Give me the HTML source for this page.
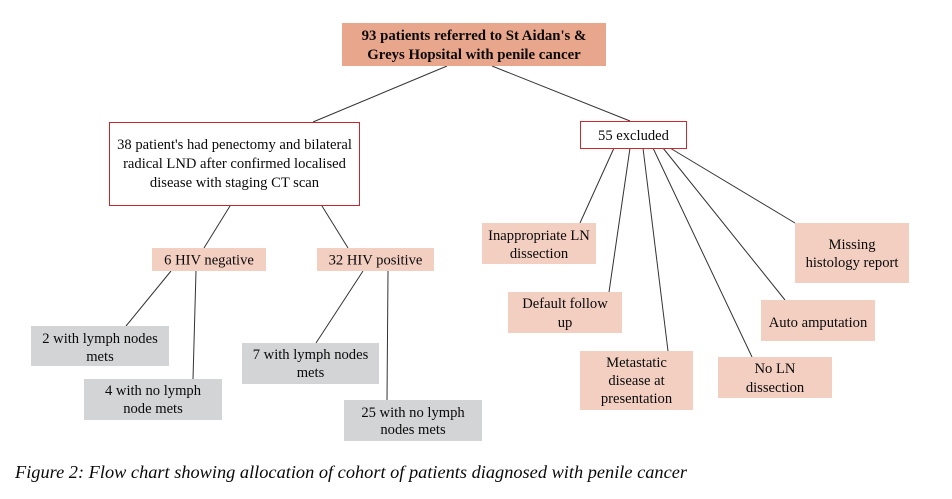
<!DOCTYPE html>
<html>
<head>
<meta charset="utf-8">
<style>
html,body{margin:0;padding:0;background:#fff;}
svg{display:block;}
text{font-family:"Liberation Serif","Times New Roman",serif;font-size:14.6px;fill:#0a0a0a;}
</style>
</head>
<body>
<svg width="952" height="499" viewBox="0 0 952 499" xmlns="http://www.w3.org/2000/svg">
<rect width="952" height="499" fill="#fff"/>
<g stroke="#333" stroke-width="1" fill="none">
<line x1="447" y1="66" x2="313" y2="122"/>
<line x1="492" y1="66" x2="630" y2="121"/>
<line x1="230" y1="206" x2="204" y2="248"/>
<line x1="322" y1="206" x2="348" y2="248"/>
<line x1="171" y1="271" x2="126" y2="326"/>
<line x1="196" y1="271" x2="193" y2="379"/>
<line x1="363" y1="271" x2="316" y2="343"/>
<line x1="388" y1="271" x2="387" y2="400"/>
<line x1="614" y1="148" x2="580" y2="223"/>
<line x1="630" y1="148" x2="609" y2="292"/>
<line x1="643" y1="148" x2="668" y2="351"/>
<line x1="653" y1="148" x2="752" y2="357"/>
<line x1="663" y1="148" x2="785" y2="300"/>
<line x1="670" y1="148" x2="795" y2="223"/>
</g>
<!-- top box -->
<rect x="342" y="23" width="264" height="43" fill="#E8A68C"/>
<text x="474" y="40" text-anchor="middle" font-weight="bold" style="font-size:14.8px">93 patients referred to St Aidan's &amp;</text>
<text x="474" y="59" text-anchor="middle" font-weight="bold" style="font-size:14.8px">Greys Hopsital with penile cancer</text>
<!-- 38 box -->
<rect x="109.5" y="122.5" width="250" height="83" fill="#fff" stroke="#C0282D" stroke-width="1"/>
<text x="234.5" y="149" text-anchor="middle">38 patient's had penectomy and bilateral</text>
<text x="234.5" y="168" text-anchor="middle">radical LND after confirmed localised</text>
<text x="234.5" y="187" text-anchor="middle">disease with staging CT scan</text>
<!-- 55 excluded -->
<rect x="580.5" y="121.5" width="106" height="27" fill="#fff" stroke="#D0282D" stroke-width="1"/>
<text x="633.5" y="140" text-anchor="middle">55 excluded</text>
<!-- HIV boxes -->
<rect x="152" y="248" width="114" height="23" fill="#F3CFC1"/>
<text x="209" y="264.5" text-anchor="middle">6 HIV negative</text>
<rect x="317" y="248" width="117" height="23" fill="#F3CFC1"/>
<text x="375.5" y="264.5" text-anchor="middle">32 HIV positive</text>
<!-- gray boxes -->
<rect x="31" y="326" width="138" height="40" fill="#D3D4D6"/>
<text x="100" y="343" text-anchor="middle">2 with lymph nodes</text>
<text x="100" y="361" text-anchor="middle">mets</text>
<rect x="84" y="379" width="138" height="41" fill="#D3D4D6"/>
<text x="153" y="395" text-anchor="middle">4 with no lymph</text>
<text x="153" y="413" text-anchor="middle">node mets</text>
<rect x="242" y="343" width="137" height="41" fill="#D3D4D6"/>
<text x="310.5" y="359" text-anchor="middle">7 with lymph nodes</text>
<text x="310.5" y="377" text-anchor="middle">mets</text>
<rect x="344" y="400" width="138" height="41" fill="#D3D4D6"/>
<text x="413" y="417" text-anchor="middle">25 with no lymph</text>
<text x="413" y="434" text-anchor="middle">nodes mets</text>
<!-- excluded reasons -->
<rect x="482" y="223" width="114" height="41" fill="#F3CFC1"/>
<text x="539" y="240" text-anchor="middle">Inappropriate LN</text>
<text x="539" y="258" text-anchor="middle">dissection</text>
<rect x="508" y="292" width="114" height="41" fill="#F3CFC1"/>
<text x="565" y="308" text-anchor="middle">Default follow</text>
<text x="565" y="327" text-anchor="middle">up</text>
<rect x="580" y="351" width="113" height="59" fill="#F3CFC1"/>
<text x="636.5" y="367" text-anchor="middle">Metastatic</text>
<text x="636.5" y="385" text-anchor="middle">disease at</text>
<text x="636.5" y="403" text-anchor="middle">presentation</text>
<rect x="718" y="357" width="114" height="41" fill="#F3CFC1"/>
<text x="775" y="373" text-anchor="middle">No LN</text>
<text x="775" y="392" text-anchor="middle">dissection</text>
<rect x="761" y="300" width="114" height="41" fill="#F3CFC1"/>
<text x="818" y="327" text-anchor="middle">Auto amputation</text>
<rect x="795" y="223" width="114" height="60" fill="#F3CFC1"/>
<text x="852" y="249" text-anchor="middle">Missing</text>
<text x="852" y="267" text-anchor="middle">histology report</text>
<!-- caption -->
<text x="15" y="478" font-style="italic" style="font-size:17.5px" textLength="672" lengthAdjust="spacingAndGlyphs">Figure 2: Flow chart showing allocation of cohort of patients diagnosed with penile cancer</text>
</svg>
</body>
</html>
